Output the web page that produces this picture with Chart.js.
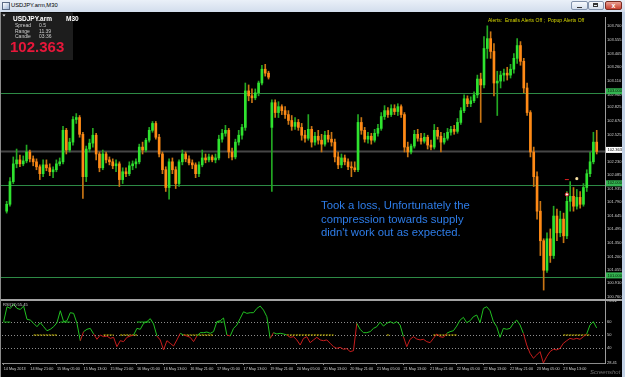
<!DOCTYPE html>
<html><head><meta charset="utf-8">
<script src="https://cdn.jsdelivr.net/npm/chart.js@4.4.1/dist/chart.umd.min.js"></script>
<style>
html,body{margin:0;padding:0;}
body{width:625px;height:377px;overflow:hidden;position:relative;background:#c3d2e6;font-family:"Liberation Sans",Arial,sans-serif;}
#title{position:absolute;left:0;top:0;width:625px;height:12px;background:linear-gradient(#eaf0f8,#d2ddec);}
#title .ttl{position:absolute;left:11px;top:2px;font-size:5.8px;line-height:7px;color:#000;}
#title .ico{position:absolute;left:2px;top:2px;width:6px;height:6px;border:1px solid #5a6b86;background:linear-gradient(135deg,#ffffff,#9fb7d8);}
.btn{position:absolute;top:1px;height:9px;border:1px solid #8494ad;border-radius:2px;box-sizing:border-box;background:linear-gradient(#f8fafd,#d5dfed);}
#bmin{left:571px;width:17px}
#bmin:after{content:"";position:absolute;left:5px;top:5px;width:5px;height:1px;background:#333;}
#bmax{left:588px;width:16px}
#bmax:after{content:"";position:absolute;left:4px;top:1px;width:5px;height:4px;border:1px solid #333;border-top-width:2px;box-sizing:border-box;}
#bclose{left:605px;width:17px;background:linear-gradient(#eba195,#c8402f);border-color:#7b2c22;color:#fff;font-size:7px;line-height:7px;text-align:center;font-weight:bold;}
#pane{position:absolute;left:0;top:12px;width:622px;height:365px;background:#000;}
canvas{position:absolute;left:0;}
#cMain{top:12px;}
#cRsi{top:296px;}
#sep{position:absolute;left:0;top:299px;width:622px;height:2px;background:#a3a3a3;}
#lb{position:absolute;left:0;top:12px;width:1px;height:365px;background:#8a8a8a;}
</style>
</head>
<body>
<div id="title"><span class="ico"></span><span class="ttl">USDJPY.arm,M30</span>
<span class="btn" id="bmin"></span><span class="btn" id="bmax"></span><span class="btn" id="bclose">x</span></div>
<div id="pane"></div>
<canvas id="cMain" width="622" height="292"></canvas>
<canvas id="cRsi" width="622" height="81"></canvas>
<div id="sep"></div>
<div id="lb"></div>
<script>
// ---------- data ----------
const tickLabels = ['14 May 2013','14 May 21:00','15 May 05:00','15 May 13:00','15 May 21:00','16 May 05:00','16 May 13:00','16 May 21:00','17 May 05:00','17 May 13:00','19 May 21:00','20 May 05:00','20 May 13:00','20 May 21:00','21 May 05:00','21 May 13:00','21 May 21:00','22 May 05:00','22 May 13:00','22 May 21:00','23 May 05:00','23 May 13:00'];
const barsPerLabel = 8;
const shiftBars = 2;

const open = [
101.714,101.789,102.035,102.228,102.271,102.228,102.260,102.357,102.282,102.250,
102.196,102.121,102.217,102.185,102.142,102.164,102.228,102.250,102.592,102.378,
102.464,102.710,102.731,102.549,102.089,102.389,102.453,102.539,102.335,102.185,
102.335,102.271,102.250,102.207,102.228,102.057,102.142,102.121,102.207,102.228,
102.250,102.410,102.378,102.485,102.592,102.667,102.517,102.335,102.164,101.971,
102.250,102.164,102.014,102.250,102.335,102.282,102.239,102.217,102.121,102.217,
102.292,102.271,102.303,102.271,102.292,102.496,102.560,102.592,102.357,102.303,
102.464,102.539,102.624,103.020,102.967,102.945,102.999,103.106,103.256,103.213,
102.624,102.892,102.785,102.849,102.806,102.763,102.699,102.635,102.678,102.624,
102.539,102.506,102.603,102.464,102.528,102.485,102.442,102.539,102.496,102.464,
102.303,102.217,102.292,102.250,102.196,102.185,102.164,102.678,102.592,102.496,
102.528,102.485,102.560,102.613,102.742,102.806,102.763,102.828,102.796,102.849,
102.763,102.410,102.357,102.421,102.549,102.506,102.474,102.517,102.432,102.410,
102.592,102.528,102.464,102.506,102.571,102.603,102.581,102.678,102.806,102.935,
102.881,102.913,102.977,103.149,103.085,103.481,103.588,103.449,103.106,103.127,
103.192,103.213,103.192,103.256,103.374,103.513,103.342,103.052,102.785,102.357,
102.089,101.714,101.393,101.072,101.414,101.232,101.661,101.479,101.628,101.446,
101.821,101.875,101.768,101.864,101.789,101.971,102.121,102.250,102.464];
const high = [
101.821,102.078,102.303,102.389,102.324,102.314,102.432,102.378,102.314,102.282,
102.217,102.271,102.271,102.228,102.196,102.271,102.292,102.635,102.613,102.506,
102.742,102.774,102.753,102.571,102.421,102.496,102.613,102.560,102.357,102.378,
102.357,102.303,102.282,102.271,102.250,102.185,102.185,102.250,102.260,102.282,
102.442,102.464,102.506,102.624,102.688,102.688,102.549,102.357,102.196,102.282,
102.292,102.196,102.271,102.378,102.357,102.314,102.271,102.239,102.250,102.378,
102.335,102.335,102.324,102.335,102.539,102.603,102.646,102.613,102.399,102.496,
102.592,102.656,103.106,103.085,103.042,103.042,103.127,103.299,103.309,103.234,
102.924,102.924,102.903,102.870,102.849,102.806,102.753,102.731,102.710,102.667,
102.592,102.763,102.635,102.571,102.592,102.549,102.581,102.592,102.571,102.496,
102.357,102.335,102.324,102.282,102.250,102.250,102.763,102.731,102.624,102.571,
102.560,102.603,102.656,102.785,102.860,102.838,102.870,102.870,102.881,102.870,
102.785,102.464,102.442,102.592,102.603,102.560,102.560,102.539,102.485,102.656,
102.624,102.571,102.560,102.613,102.635,102.646,102.721,102.838,102.977,102.967,
102.956,103.010,103.192,103.213,103.609,103.727,103.663,103.534,103.234,103.234,
103.256,103.277,103.309,103.427,103.588,103.556,103.374,103.106,102.806,102.410,
102.142,101.821,101.414,101.479,101.521,101.768,101.736,101.714,101.693,101.928,
102.035,101.971,101.950,101.928,102.014,102.164,102.357,102.571,102.592];
const low = [
101.693,101.768,102.014,102.185,102.196,102.207,102.239,102.250,102.207,102.164,
102.057,102.089,102.153,102.100,102.078,102.142,102.207,102.228,102.335,102.357,
102.432,102.667,102.517,101.853,102.035,102.357,102.410,102.271,102.142,102.164,
102.239,102.217,102.175,102.142,101.982,102.014,102.089,102.100,102.164,102.185,
102.228,102.335,102.357,102.464,102.571,102.496,102.303,102.121,101.928,101.843,
102.121,101.960,101.982,102.217,102.250,102.217,102.175,102.078,102.089,102.196,
102.239,102.250,102.250,102.239,102.271,102.464,102.528,102.292,102.271,102.282,
102.432,102.496,102.592,102.913,102.892,102.924,102.967,103.085,103.181,103.149,
101.928,102.731,102.731,102.763,102.721,102.656,102.592,102.603,102.592,102.485,
102.464,102.485,102.410,102.432,102.442,102.357,102.421,102.464,102.421,102.250,
102.175,102.185,102.217,102.164,102.089,102.142,102.142,102.549,102.464,102.453,
102.442,102.464,102.528,102.592,102.710,102.731,102.742,102.763,102.753,102.731,
102.357,102.303,102.335,102.399,102.474,102.442,102.453,102.389,102.378,102.389,
102.496,102.357,102.442,102.485,102.539,102.549,102.560,102.656,102.785,102.849,
102.849,102.892,102.945,102.678,103.052,103.374,103.374,102.967,102.753,103.052,
103.127,103.138,103.160,103.213,103.320,103.299,102.999,102.753,102.303,101.982,
101.628,101.232,100.857,101.050,101.157,101.200,101.393,101.436,101.371,101.414,
101.714,101.714,101.736,101.746,101.768,101.928,102.089,102.228,102.335];
const close = [
101.789,102.035,102.228,102.271,102.228,102.260,102.357,102.282,102.250,102.196,
102.121,102.217,102.185,102.142,102.164,102.228,102.250,102.592,102.378,102.464,
102.710,102.731,102.549,102.089,102.389,102.453,102.539,102.335,102.185,102.335,
102.271,102.250,102.207,102.228,102.057,102.142,102.121,102.207,102.228,102.250,
102.410,102.378,102.485,102.592,102.667,102.517,102.335,102.164,101.971,102.250,
102.164,102.014,102.250,102.335,102.282,102.239,102.217,102.121,102.217,102.292,
102.271,102.303,102.271,102.292,102.496,102.560,102.592,102.357,102.303,102.464,
102.539,102.624,103.020,102.967,102.945,102.999,103.106,103.256,103.213,103.170,
102.892,102.785,102.849,102.806,102.763,102.699,102.635,102.678,102.624,102.539,
102.506,102.603,102.464,102.528,102.485,102.442,102.539,102.496,102.464,102.303,
102.217,102.292,102.250,102.196,102.185,102.164,102.678,102.592,102.496,102.528,
102.485,102.560,102.613,102.742,102.806,102.763,102.828,102.796,102.849,102.763,
102.410,102.357,102.421,102.549,102.506,102.474,102.517,102.432,102.410,102.592,
102.528,102.464,102.506,102.571,102.603,102.581,102.678,102.806,102.935,102.881,
102.913,102.977,103.149,103.085,103.481,103.588,103.449,103.106,103.127,103.192,
103.213,103.192,103.256,103.374,103.513,103.342,103.052,102.785,102.357,102.089,
101.714,101.393,101.072,101.414,101.232,101.661,101.479,101.628,101.446,101.821,
101.875,101.768,101.864,101.789,101.971,102.121,102.250,102.464,102.363];

const rsi = [
60.3,71.8,70.5,73.8,70.5,69.7,72.3,62.1,61.5,59.0,
56.4,59.5,56.4,53.3,54.4,56.4,59.5,68.7,60.3,61.0,
67.2,66.7,59.0,45.6,52.6,54.4,55.1,50.8,46.7,50.0,
48.7,49.2,47.4,48.2,41.0,45.6,44.9,48.2,49.2,50.0,
55.1,54.4,59.0,60.3,62.6,58.5,49.2,46.2,38.5,45.6,
43.6,41.5,46.2,51.3,50.0,49.2,48.2,44.9,49.2,51.8,
51.8,52.3,51.3,52.6,60.3,61.0,63.1,50.0,49.2,55.1,
57.7,62.8,67.9,66.7,67.2,67.2,70.5,72.3,69.2,64.1,
47.4,51.8,50.8,51.3,50.8,50.0,48.2,48.7,46.2,42.3,
47.4,48.7,44.1,46.2,48.2,46.2,45.6,46.2,43.6,41.0,
39.7,40.5,39.0,39.5,37.2,37.9,59.0,54.4,51.8,51.8,
52.6,55.1,56.4,60.0,56.9,59.0,60.3,59.0,60.3,57.7,
48.7,41.0,46.7,48.7,46.9,46.2,46.7,44.9,44.1,47.4,
50.8,48.7,48.2,51.3,52.6,53.3,56.9,61.5,63.6,59.5,
61.0,64.1,65.4,59.5,70.5,71.8,68.7,60.3,56.4,48.2,
55.1,54.4,55.1,59.0,61.5,57.7,51.3,42.3,35.9,32.1,
34.6,37.2,28.4,33.3,37.2,39.0,38.5,39.7,43.6,45.6,
47.4,46.7,47.4,46.7,48.7,50.8,57.7,60.3,55.45];

const priceTicks = [103.700,103.555,103.405,103.260,103.110,102.960,102.825,102.670,102.525,102.230,102.085,101.935,101.790,101.645,101.495,101.350,101.200,101.055,100.910,100.760];
const priceMin = 100.760, priceMax = 103.823;
const levels = [103, 102, 101];
const rsiTicks = [28.41, 40, 50, 60, 76.22];
const rsiMin = 28.41, rsiMax = 76.22;
const rsiLevels = [60, 50, 40];
const yellowSpans = [[9,16],[30,33],[35,40],[54,63],[85,99],[115,116],[129,136],[168,176]];
const greenSpans = [[0,2],[17,20],[40,44],[64,66]];
const markers = [
  {bar:169, price:101.896, style:'circle', fill:'#ffffff', stroke:'#e02020', r:1.6},
  {bar:169, price:102.057, style:'line', fill:'#e02020', stroke:'#e02020', r:2},
  {bar:172, price:102.067, style:'rect', fill:'#ffe7a8', stroke:'#ffe7a8', r:1.3}
];
const infoLabels = ['Spread','Range','Candle'];
const infoValues = ['0.5','11.39','03:36'];
const alertText = 'Alerts:  Emails Alerts Off ;  Popup Alerts Off';
const noteLines = ['Took a loss, Unfortunately the','compression towards supply',"didn't work out as expected."];

// ---------- chart setup ----------
Chart.defaults.font.family = '"Liberation Sans", Arial, sans-serif';
const xCats = Array.from({length: close.length + shiftBars}, (_, i) =>
  (i % barsPerLabel === 0 && tickLabels[i / barsPerLabel]) ? tickLabels[i / barsPerLabel] : '');
const UP = '#2fe32f', DN = '#ff8a16', UPW = '#23a823', DNW = '#c97514';
const isUp = i => close[i] >= open[i];
const last = close[close.length - 1];

const mainDecor = {
  id: 'mainDecor',
  beforeDatasetsDraw(chart) {
    const {ctx, chartArea: a, scales: {y}} = chart;
    ctx.save();
    ctx.lineWidth = 1; ctx.strokeStyle = '#2d8a45';
    for (const v of levels) {
      const py = Math.round(y.getPixelForValue(v)) + 0.5;
      ctx.beginPath(); ctx.moveTo(1, py); ctx.lineTo(a.right, py); ctx.stroke();
    }
    const by = y.getPixelForValue(last);
    ctx.strokeStyle = '#464646'; ctx.lineWidth = 2;
    ctx.beginPath(); ctx.moveTo(1, by); ctx.lineTo(a.right, by); ctx.stroke();
    ctx.restore();
  },
  afterDraw(chart) {
    const {ctx, chartArea: a, scales: {y}} = chart;
    ctx.save();
    ctx.font = '4px "Liberation Sans"'; ctx.textBaseline = 'middle';
    for (const v of levels) {
      const py = y.getPixelForValue(v) - 1.5;
      ctx.fillStyle = '#34b452'; ctx.fillRect(a.right + 1, py - 3, 16, 6);
      ctx.fillStyle = '#001a00'; ctx.fillText(v.toFixed(3), a.right + 2.5, py);
    }
    const cy = y.getPixelForValue(last) - 1.5;
    ctx.fillStyle = '#ffffff'; ctx.fillRect(a.right + 1, cy - 3, 16, 6);
    ctx.fillStyle = '#000'; ctx.fillText(last.toFixed(3), a.right + 2.5, cy);

    // info panel
    ctx.textBaseline = 'alphabetic';
    ctx.fillStyle = '#1d1d1d'; ctx.fillRect(1, 0.5, 72, 47.5);
    ctx.fillStyle = '#ffffff';
    ctx.beginPath(); ctx.moveTo(2.5, 2.5); ctx.lineTo(5.5, 2.5); ctx.lineTo(4, 4.5); ctx.closePath(); ctx.fill();
    ctx.font = 'bold 6.5px "Liberation Sans"';
    ctx.fillText('USDJPY.arm', 13, 9); ctx.fillText('M30', 66, 9);
    ctx.font = '5px "Liberation Sans"'; ctx.fillStyle = '#cfcfcf';
    const rows = [15, 20.5, 26];
    infoLabels.forEach((t, k) => { ctx.fillText(t, 15, rows[k]); ctx.fillText(infoValues[k], 39, rows[k]); });
    ctx.font = 'bold 15px "Liberation Sans"'; ctx.fillStyle = '#e8173a';
    ctx.fillText(last.toFixed(3), 10, 40);

    // alerts
    ctx.font = '5px "Liberation Sans"'; ctx.fillStyle = '#d6d600';
    ctx.fillText(alertText, 488, 10);

    // note
    ctx.font = '11.3px "Liberation Sans"'; ctx.fillStyle = '#2e7de9';
    const ny = [197, 210.5, 224];
    noteLines.forEach((t, k) => ctx.fillText(t, 321, ny[k]));
    ctx.restore();
  }
};

const markerSets = markers.map(m => {
  const d = new Array(close.length).fill(null); d[m.bar] = m.price;
  return {type: 'line', data: d, showLine: false, pointStyle: m.style, pointRadius: m.r,
          pointBackgroundColor: m.fill, pointBorderColor: m.stroke, pointBorderWidth: 1, order: -1};
});

new Chart(document.getElementById('cMain'), {
  type: 'bar',
  data: {
    labels: xCats,
    datasets: [
      ...markerSets,
      {data: open.map((o, i) => [o, close[i]]), backgroundColor: c => isUp(c.dataIndex) ? UP : DN,
       barThickness: 2, minBarLength: 1, grouped: false, borderWidth: 0, order: 1},
      {data: low.map((l, i) => [l, high[i]]), backgroundColor: c => isUp(c.dataIndex) ? UPW : DNW,
       barThickness: 1, grouped: false, borderWidth: 0, order: 2}
    ]
  },
  options: {
    responsive: false, animation: false, events: [],
    layout: {padding: {left: 2, top: 1, right: 0, bottom: 4.9}},
    plugins: {legend: {display: false}, tooltip: {enabled: false}},
    scales: {
      x: {display: false, offset: true},
      y: {position: 'right', min: priceMin, max: priceMax,
          grid: {display: false, drawTicks: false},
          border: {display: true, color: '#9c9c9c'},
          ticks: {color: '#d2d2d2', font: {size: 4}, padding: 2, labelOffset: -2, callback: v => v.toFixed(3)},
          afterBuildTicks: s => { s.ticks = priceTicks.map(v => ({value: v})); },
          afterFit: s => { s.width = 17; s.paddingTop = 0; s.paddingBottom = 0; }}
    }
  },
  plugins: [mainDecor]
});

const spanData = (spans, v) => {
  const d = new Array(close.length).fill(null);
  spans.forEach(([a, b]) => { for (let i = a; i <= b; i++) d[i] = v; });
  return d;
};
const RG = '#21c021', RR = '#c81d1d';
const rsiDecor = {
  id: 'rsiDecor',
  beforeDatasetsDraw(chart) {
    const {ctx, chartArea: a, scales: {y}} = chart;
    ctx.save();
    ctx.strokeStyle = '#8e8e8e'; ctx.lineWidth = 1; ctx.setLineDash([1, 2]);
    for (const v of rsiLevels) {
      const py = Math.round(y.getPixelForValue(v)) + 0.5;
      ctx.beginPath(); ctx.moveTo(a.left, py); ctx.lineTo(a.right, py); ctx.stroke();
    }
    ctx.restore();
  },
  afterDraw(chart) {
    const {ctx} = chart;
    ctx.save();
    ctx.font = '4px "Liberation Sans"'; ctx.fillStyle = '#d4d4d4'; ctx.textBaseline = 'middle';
    ctx.fillText('RSI(11) ' + rsi[rsi.length - 1].toFixed(2), 3, 8.5);
    ctx.font = 'italic 6px "Liberation Sans"'; ctx.fillStyle = 'rgba(150,150,150,0.75)';
    ctx.fillText('Screenshot', 590, 76);
    ctx.restore();
  }
};

new Chart(document.getElementById('cRsi'), {
  type: 'line',
  data: {
    labels: xCats,
    datasets: [
      {data: rsi, borderWidth: 1, pointRadius: 0, borderColor: RG,
       segment: {borderColor: c => (c.p0.parsed.y + c.p1.parsed.y) / 2 >= 50 ? RG : RR}},
      {data: spanData(greenSpans, 60), borderColor: '#19b319', borderWidth: 1, pointRadius: 0},
      {data: spanData(yellowSpans, 50), borderColor: '#e3d000', borderWidth: 1, borderDash: [2, 1], pointRadius: 0}
    ]
  },
  options: {
    responsive: false, animation: false, events: [],
    layout: {padding: {left: 2, top: 5, right: 0, bottom: 0}},
    plugins: {legend: {display: false}, tooltip: {enabled: false}},
    scales: {
      x: {offset: true,
          grid: {display: true, drawOnChartArea: false, drawTicks: true, tickLength: 2, offset: false,
                 color: c => xCats[c.index] ? '#8a8a8a' : 'rgba(0,0,0,0)'},
          border: {display: true, color: '#8c8c8c'},
          ticks: {autoSkip: false, maxRotation: 0, minRotation: 0, align: 'start', padding: 2,
                  color: '#cfcfcf', font: {size: 3.8}},
          afterFit: s => { s.height = 14; s.paddingLeft = 0; s.paddingRight = 0; }},
      y: {position: 'right', min: rsiMin, max: rsiMax,
          grid: {display: false, drawTicks: false},
          border: {display: true, color: '#9c9c9c'},
          ticks: {color: '#d2d2d2', font: {size: 4}, padding: 2,
                  callback: v => Number.isInteger(v) ? String(v) : v.toFixed(2)},
          afterBuildTicks: s => { s.ticks = rsiTicks.map(v => ({value: v})); },
          afterFit: s => { s.width = 17; s.paddingTop = 0; s.paddingBottom = 0; }}
    }
  },
  plugins: [rsiDecor]
});
</script>
</body></html>
